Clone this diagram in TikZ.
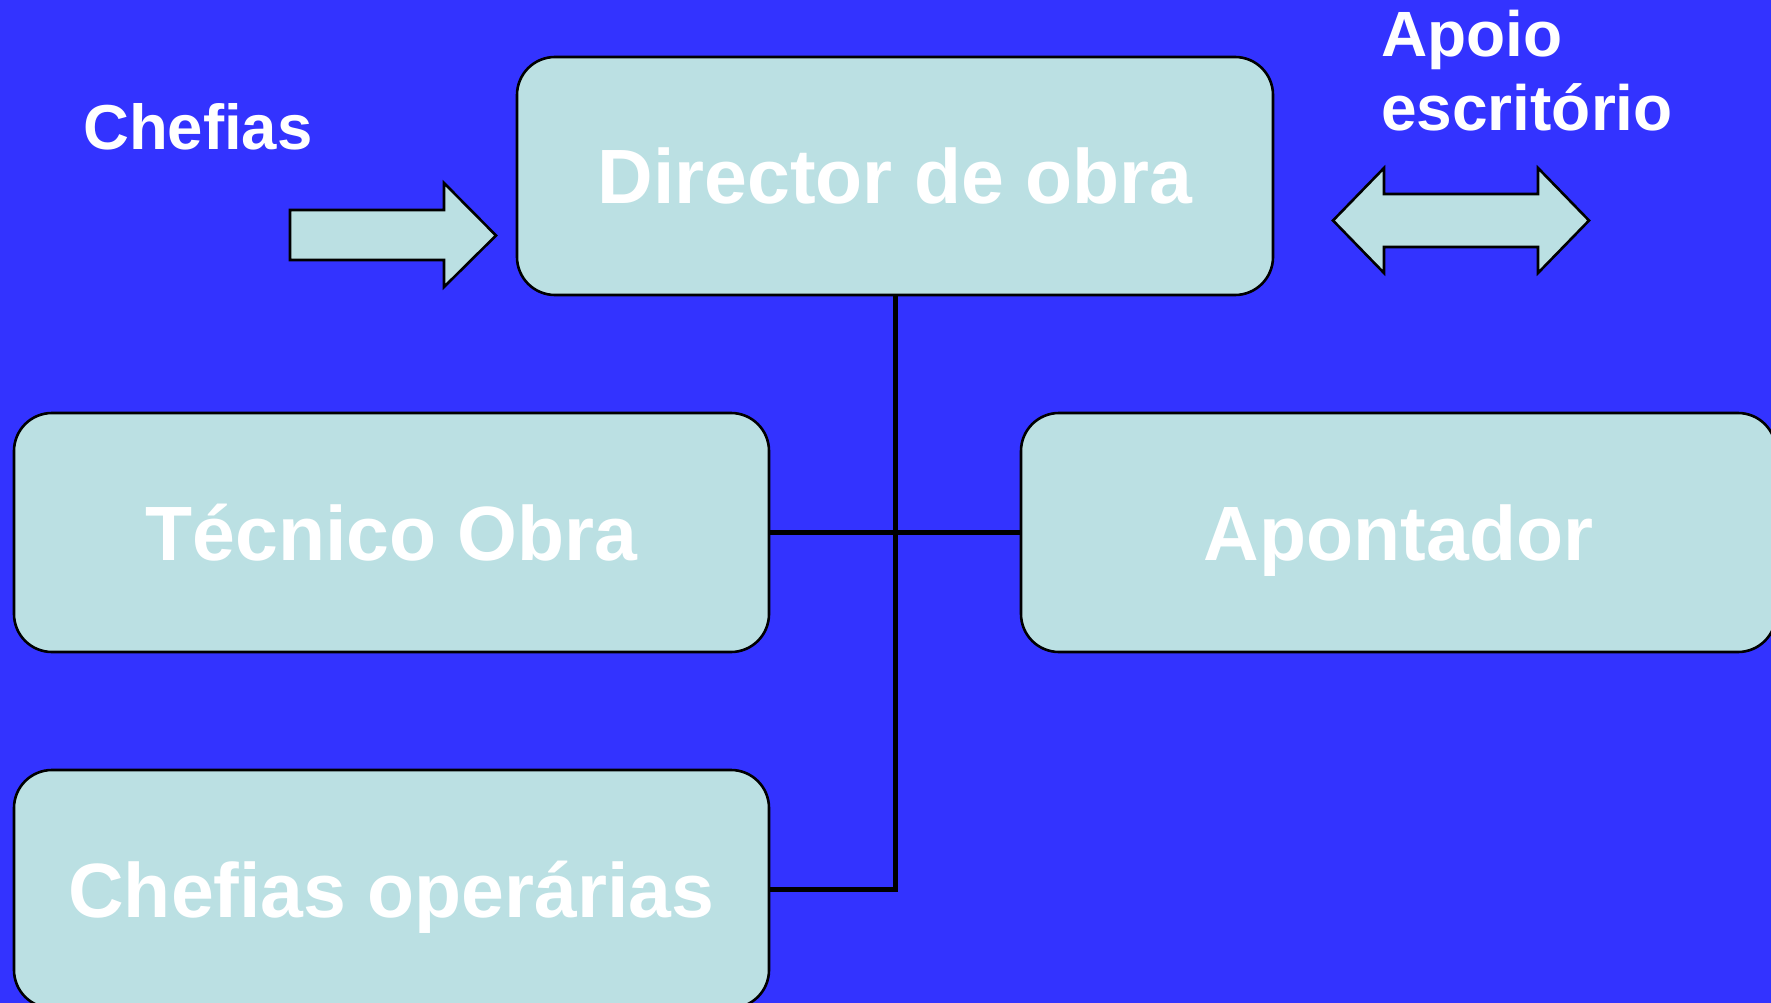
\documentclass[tikz,border=0pt]{standalone}
\usepackage{fontspec}
\setmainfont{Liberation Sans}
\definecolor{bgblue}{RGB}{51,51,255}
\definecolor{boxfill}{RGB}{187,224,227}
\tikzset{
  orgbox/.style={draw=black, line width=2.6pt, fill=boxfill, rounded corners=38pt,
    inner sep=0pt, text=white, text height=56pt, text depth=0pt,
    font=\bfseries\fontsize{77}{80}\selectfont},
  conn/.style={draw=black, line width=5pt, line join=miter},
  blockarrow/.style={draw=black, line width=2.6pt, fill=boxfill, line join=miter},
  lbl/.style={inner sep=0pt, text=white, font=\bfseries\fontsize{63.5}{71}\selectfont}
}
\begin{document}
\begin{tikzpicture}[x=1pt,y=-1pt]
\useasboundingbox (0,0) rectangle (1771,1003);
\clip (0,0) rectangle (1771,1003);
\fill[bgblue] (0,0) rectangle (1771,1003);

\node[orgbox, minimum width=756pt, minimum height=238pt] (dir) at (895,176) {Director de obra};
\node[orgbox, minimum width=755pt, minimum height=239pt] (tec) at (391.5,532.5) {Técnico Obra};
\node[orgbox, minimum width=755pt, minimum height=239pt] (apo) at (1398.5,532.5) {Apontador};
\node[orgbox, minimum width=755pt, minimum height=238pt] (chop) at (391.5,889) {Chefias operárias};

\draw[conn] (dir.south) |- (chop.east);
\draw[conn] (tec.east) -- (apo.west);

\draw[blockarrow] (290,210) -- (444,210) -- (444,183) -- (496,235.5) -- (444,287) -- (444,260) -- (290,260) -- cycle;
\draw[blockarrow] (1333,220.5) -- (1384,168) -- (1384,194) -- (1538,194) -- (1538,168) -- (1589,220.5) -- (1538,273) -- (1538,247) -- (1384,247) -- (1384,273) -- cycle;

\node[lbl, anchor=base west] (chefias) at (83,150) {Chefias};
\node[lbl, anchor=base west, font=\bfseries\fontsize{64}{71}\selectfont] (apoio1) at (1381,57) {Apoio};
\node[lbl, anchor=base west, font=\bfseries\fontsize{64}{71}\selectfont] (apoio2) at (1381,131) {escritório};
\end{tikzpicture}
\end{document}
